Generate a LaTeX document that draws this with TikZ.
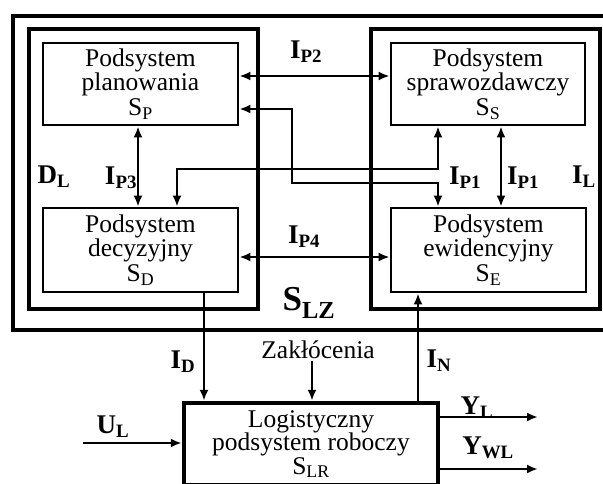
\documentclass[tikz,border=0pt]{standalone}
\usepackage{fontspec}
\setmainfont{Liberation Serif}
\usetikzlibrary{arrows.meta}
\begin{document}
\begin{tikzpicture}[x=1pt,y=-1pt,
  >={Latex[length=11pt,width=9pt]},
  sub/.style={draw,line width=2.8pt,minimum width=195pt,minimum height=82pt,inner sep=0pt,align=center,font=\fontsize{25.5}{24.5}\selectfont},
  lab/.style={font=\fontsize{27}{28}\selectfont\bfseries,inner sep=0pt},
  txt/.style={font=\fontsize{25.5}{25}\selectfont,inner sep=2pt},
  conn/.style={line width=2.7pt},
  frame/.style={line width=3.4pt}]
\useasboundingbox (0,0) rectangle (603,484);
\fill[white] (0,0) rectangle (603,484);
\clip (0,0) rectangle (603,484);
% frames
\draw[line width=4.5pt] (13,16) rectangle (640,330);
\draw[frame] (29,29) rectangle (258,309);
\draw[frame] (371,29) rectangle (600,309);
% subsystems
\node[sub] (sp) at (140.5,84) {Podsystem\\planowania\\S\textsubscript{P}};
\node[sub,minimum width=194pt] (ss) at (488,84) {Podsystem\\sprawozdawczy\\S\textsubscript{S}};
\node[sub,minimum height=84pt] (sd) at (140.5,250) {Podsystem\\decyzyjny\\S\textsubscript{D}};
\node[sub,minimum height=84pt] (se) at (488.5,250) {Podsystem\\ewidencyjny\\S\textsubscript{E}};
\node[sub,line width=4.5pt,minimum width=254pt,minimum height=82pt,font=\fontsize{25.5}{23.5}\selectfont] (slr) at (311,444) {Logistyczny\\podsystem roboczy\\S\textsubscript{LR}};
% labels
\node[lab] (ip2) at (306,52) {I\textsubscript{P2}};
\node[lab] (ip4) at (304,237) {I\textsubscript{P4}};
\node[lab] (dl) at (54,177) {D\textsubscript{L}};
\node[lab] (ip3) at (121,178) {I\textsubscript{P3}};
\node[lab] (ip1a) at (465,178) {I\textsubscript{P1}};
\node[lab] (ip1b) at (523,178) {I\textsubscript{P1}};
\node[lab] (il) at (584,177) {I\textsubscript{L}};
\node[lab,font=\fontsize{35}{36}\selectfont\bfseries] (slz) at (309,303) {S\textsubscript{LZ}};
\node[lab] (id) at (183,362) {I\textsubscript{D}};
\node[lab] (in) at (439,361) {I\textsubscript{N}};
\node[lab] (yl) at (477,408) {Y\textsubscript{L}};
\node[lab] (ywl) at (488,448) {Y\textsubscript{WL}};
\node[lab] (ul) at (113,427) {U\textsubscript{L}};
\node[txt] (zak) at (318,350) {Zakłócenia};
\coordinate (ulin) at (83,443);
\coordinate (ylout) at (538,417);
\coordinate (ywlout) at (538,469);
% connectors
\draw[conn,<->] (sp.east |- 0,76) -- (ss.west |- 0,76);
\draw[conn,<->] (sp.east |- 0,109) -- (292,109) -- (292,183) -- (438,183) -- (se.north -| 438,0);
\draw[conn,<->] (ss.south -| 438,0) -- (438,169) -- (177,169) -- (sd.north -| 177,0);
\draw[conn,<->] (sp.south -| 138,0) -- (sd.north -| 138,0);
\draw[conn,<->] (ss.south -| 501,0) -- (se.north -| 501,0);
\draw[conn,<->] (sd.east |- 0,257) -- (se.west |- 0,257);
\draw[conn,->] (sd.south -| 204,0) -- (slr.north -| 204,0);
\draw[conn,->] (zak.south -| 312,0) -- (slr.north -| 312,0);
\draw[conn,->] (slr.north -| 418,0) -- (se.south -| 418,0);
\draw[conn,->] (ulin) -- (slr.west |- ulin);
\draw[conn,->] (slr.east |- ylout) -- (ylout);
\draw[conn,->] (slr.east |- ywlout) -- (ywlout);
\end{tikzpicture}
\end{document}
